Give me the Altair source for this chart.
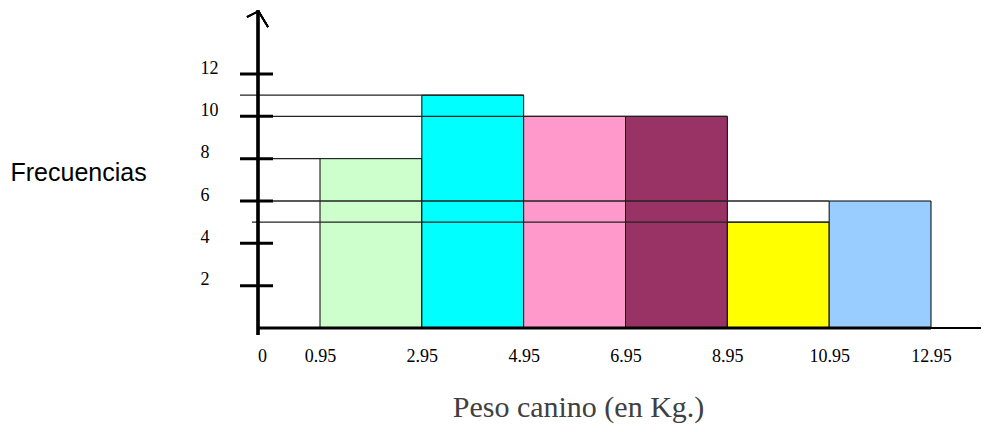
import altair as alt
import pandas as pd

# ---- data ----
class_lo = [0.95, 2.95, 4.95, 6.95, 8.95, 10.95]
class_hi = [2.95, 4.95, 6.95, 8.95, 10.95, 12.95]
freq = [8, 11, 10, 10, 5, 6]
bar_colors = ["#CCFFCC", "#00FFFF", "#FF99CC", "#993366", "#FFFF00", "#99CCFF"]

y_ticks = [2, 4, 6, 8, 10, 12]
x_tick_values = [-0.19, 0.95, 2.95, 4.95, 6.95, 8.95, 10.95, 12.95]
x_tick_labels = ["0", "0.95", "2.95", "4.95", "6.95", "8.95", "10.95", "12.95"]

ref_y = [11, 10, 8, 6, 5]
ref_end = [4.95, 8.95, 0.95, 10.95, 10.95]

X_DOMAIN = [-0.2677, 13.932]
Y_DOMAIN = [0, 15.024]
W, H = 723, 318

# how far (px) each reference line pokes left of the vertical axis
OVERHANG = {11: 18, 10: 0, 8: 18, 6: 0, 5: 6}
PX_PER_UNIT = W / (X_DOMAIN[1] - X_DOMAIN[0])

bars = pd.DataFrame({"lo": class_lo, "hi": class_hi, "f": freq, "c": bar_colors})
ticks_df = pd.DataFrame({"v": y_ticks})
ref_df = pd.DataFrame({
    "y": ref_y,
    "start": [X_DOMAIN[0] - OVERHANG[y] / PX_PER_UNIT for y in ref_y],
    "end": ref_end,
})
base_df = pd.DataFrame({"start": [X_DOMAIN[0]], "end": [class_hi[-1]], "y": [0]})

x_scale = alt.Scale(domain=X_DOMAIN, nice=False, zero=False)
y_scale = alt.Scale(domain=Y_DOMAIN, nice=False, zero=False)

label_expr = "''"
for v, l in zip(x_tick_values, x_tick_labels):
    label_expr = f"abs(datum.value - ({v})) < 0.001 ? '{l}' : ({label_expr})"

x_axis = alt.Axis(
    values=x_tick_values, labelExpr=label_expr, domain=False, ticks=False, tickSize=0,
    grid=False, labelPadding=19, labelFont="Liberation Serif", labelFontSize=18,
    labelColor="black", labelFlush=False, labelOverlap=False,
    title="Peso canino (en Kg.)", titleFont="Liberation Serif", titleFontSize=30,
    titleFontWeight="normal", titleColor="#404040", titleX=320, titleY=88,
    titleAlign="center", titleBaseline="alphabetic",
)
y_axis = alt.Axis(
    values=y_ticks, domain=False, ticks=False, tickSize=0, grid=False,
    labelAlign="left", labelPadding=58, labelOffset=-6, labelFont="Liberation Serif",
    labelFontSize=18, labelColor="black",
    title="Frecuencias", titleAngle=0, titleX=-248, titleY=162, titleAlign="left",
    titleBaseline="middle", titleFont="Liberation Sans", titleFontSize=25,
    titleFontWeight="normal", titleColor="black",
)

bar_layer = alt.Chart(bars).mark_rect(stroke="black", strokeWidth=1).encode(
    x=alt.X("lo:Q", scale=x_scale, axis=x_axis),
    x2="hi:Q",
    y=alt.Y("f:Q", scale=y_scale, axis=y_axis),
    y2=alt.datum(0),
    fill=alt.Fill("c:N", scale=None),
)

ref_layer = alt.Chart(ref_df).mark_rule(color="#222222", strokeWidth=1.3).encode(
    x=alt.X("start:Q", scale=x_scale),
    x2="end:Q",
    y=alt.Y("y:Q", scale=y_scale),
)

tick_layer = alt.Chart(ticks_df).mark_rule(color="black", strokeWidth=3).encode(
    x=alt.value(-18), x2=alt.value(15),
    y=alt.Y("v:Q", scale=y_scale),
)

yaxis_line = alt.Chart(ticks_df).mark_rule(color="black", strokeWidth=2.5).encode(
    x=alt.value(0), y=alt.value(0), y2=alt.value(H + 7)
)
xaxis_line = alt.Chart(ticks_df).mark_rule(color="black", strokeWidth=1.5).encode(
    x=alt.value(0), x2=alt.value(W), y=alt.value(H)
)
xaxis_thick = alt.Chart(base_df).mark_rule(color="black", strokeWidth=3).encode(
    x=alt.X("start:Q", scale=x_scale),
    x2="end:Q",
    y=alt.Y("y:Q", scale=y_scale),
)
arrow_l = alt.Chart(ticks_df).mark_rule(color="black", strokeWidth=1.5).encode(
    x=alt.value(-11), y=alt.value(7), x2=alt.value(-1), y2=alt.value(2)
)
arrow_r = alt.Chart(ticks_df).mark_rule(color="black", strokeWidth=1.5).encode(
    x=alt.value(1), y=alt.value(2), x2=alt.value(10), y2=alt.value(17)
)

chart = alt.layer(
    bar_layer, ref_layer, tick_layer, yaxis_line, xaxis_line, xaxis_thick, arrow_l, arrow_r
).properties(
    width=W, height=H,
    padding={"left": 250, "top": 2, "right": 0, "bottom": 96},
    autosize="none",
    background="white",
).configure_view(stroke=None)

chart.save("out.html", embed_options={"renderer": "svg", "actions": False})
